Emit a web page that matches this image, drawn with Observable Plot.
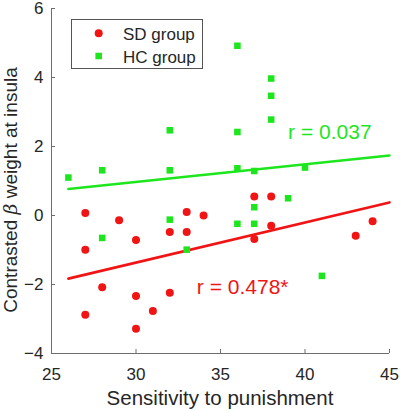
<!DOCTYPE html>
<html>
<head>
<meta charset="utf-8">
<script src="https://cdn.jsdelivr.net/npm/d3@7"></script>
<script src="https://cdn.jsdelivr.net/npm/@observablehq/plot@0.6"></script>
<style>
  html, body { margin: 0; padding: 0; background: #fff; }
  #chart { width: 400px; height: 411px; }
</style>
</head>
<body>
<div id="chart"></div>
<script>
// SD group (red circles)
const sdX = [27, 29, 33, 34, 32, 33, 30, 27, 28, 30, 32, 31, 27, 30, 37, 38, 38, 37, 43, 44];
const sdY = [0.07, -0.14, 0.10, 0.0, -0.48, -0.48, -0.71, -0.99, -2.08, -2.33, -2.24, -2.77, -2.88, -3.28, 0.55, 0.55, -0.30, -0.68, -0.59, -0.17];
// HC group (green squares)
const hcX = [26, 28, 28, 32, 32, 32, 33, 36, 36, 36, 36, 37, 37, 37, 38, 38, 38, 39, 40, 41];
const hcY = [1.10, 1.31, -0.65, 2.47, 1.31, -0.12, -0.99, 4.92, 2.42, 1.37, -0.24, 1.29, 0.24, -0.24, 3.97, 3.47, 2.78, 0.50, 1.39, -1.75];
// fitted lines (end points)
const fitX = [26, 45];
const sdFit = [-1.83, 0.38];
const hcFit = [0.77, 1.74];
// annotations
const annoText = ["r = 0.037", "r = 0.478*"];
const annoX = [39.0, 33.6];
const annoY = [2.22, -2.28];
const xTicks = [25, 30, 35, 40, 45];
const yTicks = [-4, -2, 0, 2, 4, 6];
const legendLabels = ["SD group", "HC group"];

const RED = "#f01414";
const GREEN = "#1ee61e";
const AXIS = "#6e6e6e";
const FONT = "'Liberation Sans', Arial, Helvetica, sans-serif";

const sd = sdX.map((x, i) => ({x, y: sdY[i]}));
const hc = hcX.map((x, i) => ({x, y: hcY[i]}));
const sdLine = fitX.map((x, i) => ({x, y: sdFit[i]}));
const hcLine = fitX.map((x, i) => ({x, y: hcFit[i]}));
const anno = annoText.map((t, i) => ({t, x: annoX[i], y: annoY[i], c: i === 0 ? GREEN : RED}));

const plot = Plot.plot({
  width: 400,
  height: 411,
  marginLeft: 51,
  marginRight: 11,
  marginTop: 8,
  marginBottom: 58,
  style: {fontFamily: FONT, fontSize: "17px", color: "#262626", background: "#fff"},
  x: {domain: [25, 45]},
  y: {domain: [-4, 6]},
  marks: [
    Plot.ruleY([-4], {stroke: AXIS, strokeWidth: 1}),
    Plot.ruleX([25], {stroke: AXIS, strokeWidth: 1}),
    Plot.axisX({ticks: xTicks, tickSize: -4, tickPadding: 18, stroke: AXIS, label: null, tickFormat: d3.format("d")}),
    Plot.axisY({ticks: yTicks, tickSize: -4, tickPadding: 12, stroke: AXIS, label: null, tickFormat: d3.format("d")}),
    Plot.line(hcLine, {x: "x", y: "y", stroke: GREEN, strokeWidth: 2.6}),
    Plot.line(sdLine, {x: "x", y: "y", stroke: RED, strokeWidth: 2.6}),
    Plot.dot(sd, {x: "x", y: "y", r: 4, fill: RED}),
    Plot.dot(hc, {x: "x", y: "y", r: 3.7, symbol: "square", fill: GREEN}),
    Plot.text(anno, {x: "x", y: "y", text: "t", fill: "c", textAnchor: "start", lineAnchor: "bottom", fontSize: 21})
  ]
});

const svg = d3.select(plot);
// x axis title
svg.append("text")
  .attr("x", 220).attr("y", 405)
  .attr("text-anchor", "middle")
  .attr("font-size", 20.5).attr("fill", "#262626")
  .text("Sensitivity to punishment");
// y axis title
const yl = svg.append("text")
  .attr("transform", "translate(17,190) rotate(-90)")
  .attr("text-anchor", "middle")
  .attr("font-size", 19).attr("fill", "#262626");
yl.append("tspan").text("Contrasted ");
yl.append("tspan").attr("font-style", "italic").attr("font-family", "'DejaVu Serif', serif").text("β");
yl.append("tspan").text(" weight at insula");
// legend
const lg = svg.append("g");
lg.append("rect").attr("x", 71.5).attr("y", 19.5).attr("width", 131).attr("height", 49)
  .attr("fill", "#fff").attr("stroke", "#555").attr("stroke-width", 1);
lg.append("circle").attr("cx", 98.7).attr("cy", 33.3).attr("r", 4).attr("fill", RED);
lg.append("rect").attr("x", 95.4).attr("y", 52.7).attr("width", 6.6).attr("height", 6.6).attr("fill", GREEN);
lg.append("text").attr("x", 123).attr("y", 39.5).attr("text-anchor", "start").attr("font-size", 17).attr("fill", "#262626").text(legendLabels[0]);
lg.append("text").attr("x", 123).attr("y", 62.5).attr("text-anchor", "start").attr("font-size", 17).attr("fill", "#262626").text(legendLabels[1]);

document.getElementById("chart").appendChild(plot);
</script>
</body>
</html>
